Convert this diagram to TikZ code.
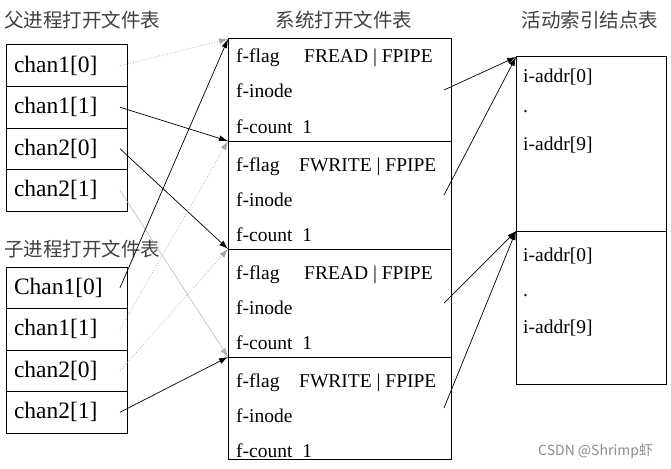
\documentclass[tikz,border=0pt]{standalone}
\usepackage{fontspec}
\setmainfont{Liberation Serif}
\newfontfamily\cjk{Noto Sans CJK SC}
\usetikzlibrary{positioning}
\usetikzlibrary{arrows.meta}

\tikzset{
  row/.style={draw, line width=1pt, text width=105pt, inner xsep=8pt, inner ysep=0pt,
    minimum height=41.5pt, align=left, outer sep=0pt, font=\fontsize{23.5}{25}\selectfont},
  sec/.style={draw, line width=1pt, minimum width=223pt, inner sep=0pt, outer sep=0pt},
  ino/.style={draw, line width=1pt, minimum width=150pt, inner sep=0pt, outer sep=0pt},
  fld/.style={anchor=base west, inner sep=0pt, font=\fontsize{19.5}{20}\selectfont},
  ttl/.style={inner sep=0pt, text=black!75, font=\cjk\fontsize{19.5}{20}\selectfont},
  link/.style={-{Latex[length=9pt,width=6pt]}, line width=0.7pt},
  weak/.style={link, draw=gray!70, dotted, line width=0.8pt},
  thin/.style={link, draw=gray!60, line width=0.5pt},
}

\begin{document}
\begin{tikzpicture}[x=1pt,y=-1pt]
    \useasboundingbox (0,0) rectangle (671,468);
    % 标题
    \node[ttl, anchor=west] (ptitle) at (4,20) {父进程打开文件表};
    \node[ttl, anchor=west] (ctitle) at (4,249) {子进程打开文件表};
    \node[ttl] (stitle) at (344,20) {系统打开文件表};
    \node[ttl] (ititle) at (590,20) {活动索引结点表};

    % 父进程打开文件表
    \node[row, anchor=north west] (p10) at (6,45) {chan1[0]};
    \node[row, below=0pt of p10] (p11) {chan1[1]};
    \node[row, below=0pt of p11] (p20) {chan2[0]};
    \node[row, below=0pt of p20] (p21) {chan2[1]};

    % 子进程打开文件表
    \node[row, anchor=north west] (c10) at (6,267) {Chan1[0]};
    \node[row, below=0pt of c10] (c11) {chan1[1]};
    \node[row, below=0pt of c11] (c20) {chan2[0]};
    \node[row, below=0pt of c20] (c21) {chan2[1]};

    % 系统打开文件表
    \node[sec, minimum height=102pt, anchor=north west] (s1) at (228,39) {};
    \node[sec, minimum height=108pt, below=0pt of s1] (s2) {};
    \node[sec, minimum height=108pt, below=0pt of s2] (s3) {};
    \node[sec, minimum height=102pt, below=0pt of s3] (s4) {};

    \node[fld] (s1flag) at ([shift={(8,24)}]s1.north west) {f-flag};
    \node[fld] (s1mode) at ([shift={(76,24)}]s1.north west) {FREAD | FPIPE};
    \node[fld] (s1node) at ([shift={(8,59)}]s1.north west) {f-inode};
    \node[fld] (s1cnt) at ([shift={(8,94)}]s1.north west) {f-count\ \ 1};

    \node[fld] (s2flag) at ([shift={(8,30)}]s2.north west) {f-flag};
    \node[fld] (s2mode) at ([shift={(71,30)}]s2.north west) {FWRITE | FPIPE};
    \node[fld] (s2node) at ([shift={(8,65)}]s2.north west) {f-inode};
    \node[fld] (s2cnt) at ([shift={(8,100)}]s2.north west) {f-count\ \ 1};

    \node[fld] (s3flag) at ([shift={(8,30)}]s3.north west) {f-flag};
    \node[fld] (s3mode) at ([shift={(76,30)}]s3.north west) {FREAD | FPIPE};
    \node[fld] (s3node) at ([shift={(8,65)}]s3.north west) {f-inode};
    \node[fld] (s3cnt) at ([shift={(8,100)}]s3.north west) {f-count\ \ 1};

    \node[fld] (s4flag) at ([shift={(8,30)}]s4.north west) {f-flag};
    \node[fld] (s4mode) at ([shift={(71,30)}]s4.north west) {FWRITE | FPIPE};
    \node[fld] (s4node) at ([shift={(8,65)}]s4.north west) {f-inode};
    \node[fld] (s4cnt) at ([shift={(8,100)}]s4.north west) {f-count\ \ 1};

    % 活动索引结点表
    \node[ino, minimum height=174pt, anchor=north west] (i1) at (516,57) {};
    \node[ino, minimum height=153pt, below=0pt of i1] (i2) {};

    \node[fld] (i1a0) at ([shift={(7,26)}]i1.north west) {i-addr[0]};
    \node[fld] (i1dot) at ([shift={(7,56)}]i1.north west) {.};
    \node[fld] (i1a9) at ([shift={(7,93)}]i1.north west) {i-addr[9]};

    \node[fld] (i2a0) at ([shift={(7,30)}]i2.north west) {i-addr[0]};
    \node[fld] (i2dot) at ([shift={(7,65)}]i2.north west) {.};
    \node[fld] (i2a9) at ([shift={(7,102)}]i2.north west) {i-addr[9]};

    % 父进程 -> 系统打开文件表
    \draw[weak] ([xshift=-7pt]p10.east) -- (s1.north west);
    \draw[link] ([xshift=-7pt]p11.east) -- (s2.north west);
    \draw[link] ([xshift=-7pt]p20.east) -- (s3.north west);
    \draw[thin] ([xshift=-7pt]p21.east) -- (s4.north west);

    % 子进程 -> 系统打开文件表
    \draw[link] ([xshift=-7pt]c10.east) -- (s1.north west);
    \draw[weak] ([xshift=-7pt]c11.east) -- (s2.north west);
    \draw[weak] ([xshift=-7pt]c20.east) -- (s3.north west);
    \draw[link] ([xshift=-7pt]c21.east) -- (s4.north west);

    % 系统打开文件表 -> 活动索引结点表
    \draw[link] ([xshift=-7pt]s1.east) -- (i1.north west);
    \draw[link] ([xshift=-7pt]s2.east) -- (i1.north west);
    \draw[link] ([xshift=-7pt]s3.east) -- (i2.north west);
    \draw[link] ([xshift=-7pt]s4.east) -- (i2.north west);

    \node[inner sep=0pt, anchor=base west, text=black!45, font=\cjk\fontsize{14}{15}\selectfont]
      (mark) at (538,455) {CSDN @Shrimp虾};
\end{tikzpicture}
\end{document}
